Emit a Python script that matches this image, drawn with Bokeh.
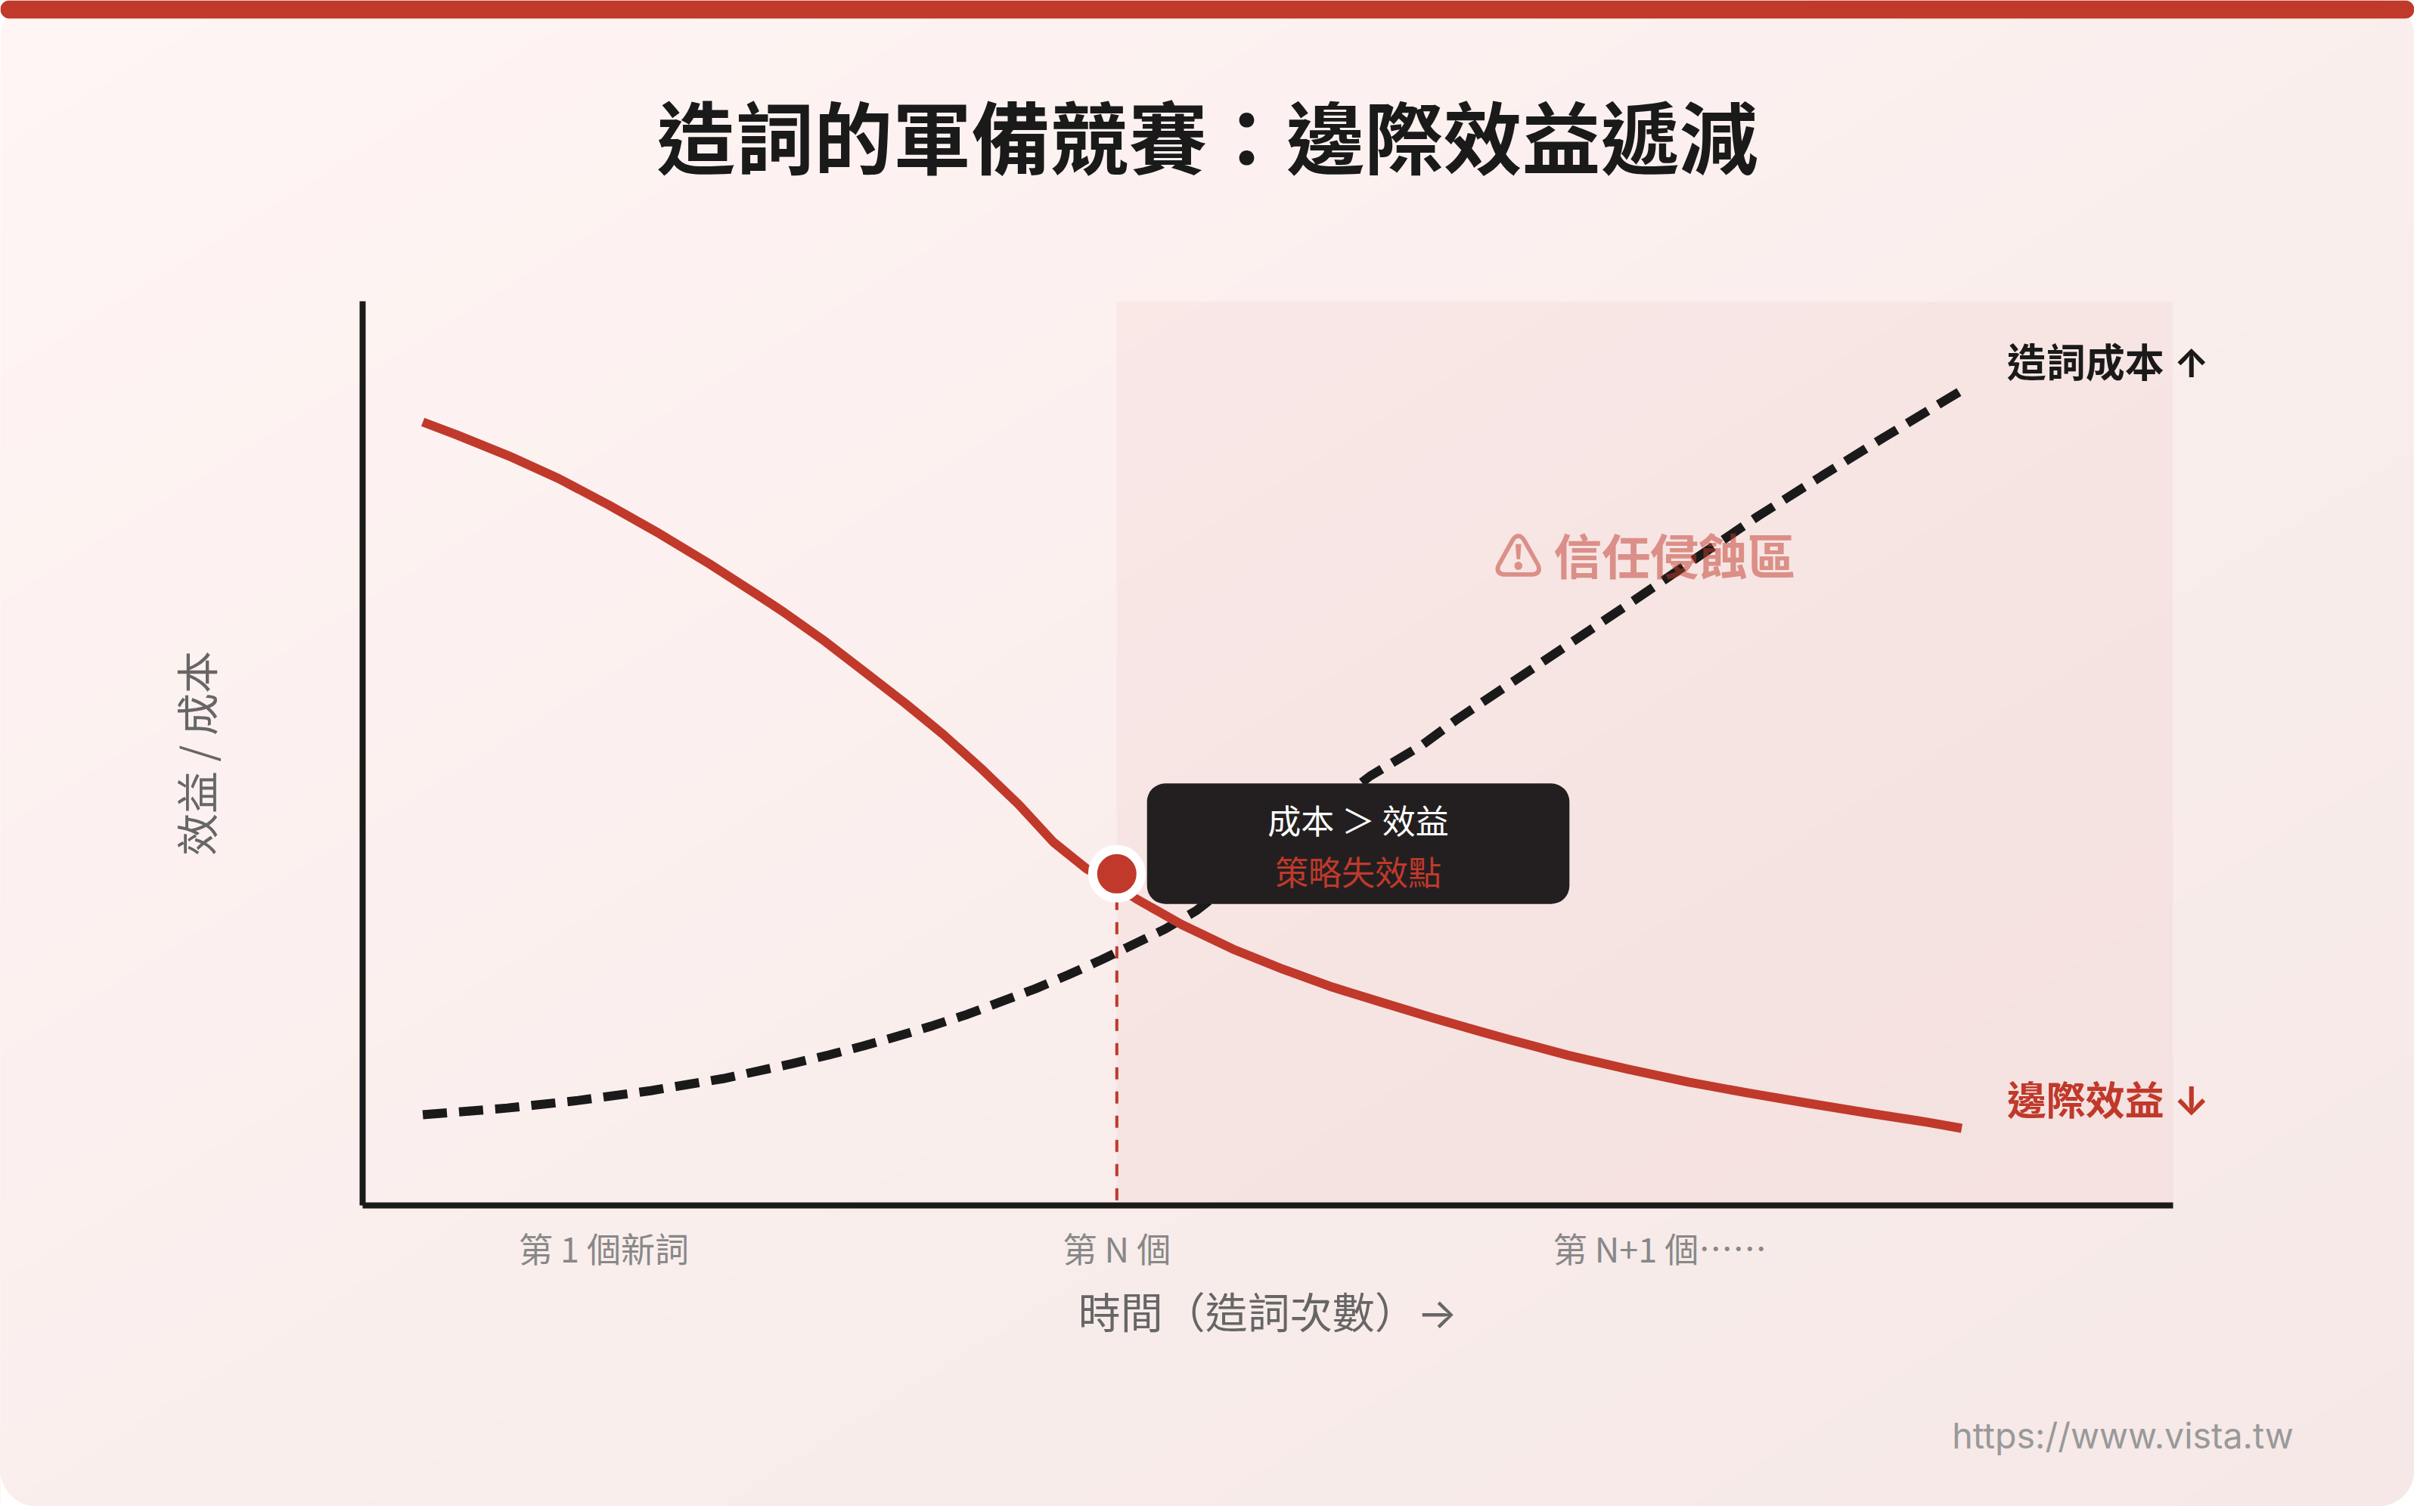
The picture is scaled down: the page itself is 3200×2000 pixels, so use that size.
import math
from bokeh.plotting import figure
from bokeh.models import Range1d, FixedTicker
from bokeh.core.properties import value
from bokeh.embed import file_html
from bokeh.resources import INLINE

# ---------- data (in the chart's own 1600x1000 units) ----------
benefit_x = [280, 303, 337, 370, 403, 437, 470, 503, 520, 545, 573, 600, 625, 650, 675, 698, 720, 740, 753, 783, 817, 850, 883, 917, 950, 983, 1000, 1039, 1079, 1119, 1158, 1198, 1237, 1277, 1300]
benefit_y = [280, 288.7, 302.5, 317.5, 335, 354.2, 374.2, 395.5, 406.8, 424.5, 446, 467, 487.5, 510, 534, 559, 576.7, 588, 596.7, 613.7, 630, 643.3, 655.3, 665.8, 675.8, 685.3, 690, 700.5, 709.8, 718.3, 725.5, 732.3, 738.7, 744.9, 749]
cost_x = [280, 336, 383, 431, 479, 525, 549, 572, 595, 618, 641, 663, 686, 708, 730, 747, 772, 793, 850, 908, 943, 966, 1027, 1066, 1087, 1126, 1165, 1207, 1248, 1290, 1300]
cost_y = [740, 735.5, 730.5, 724, 716, 706, 700.3, 694.3, 687.8, 680.8, 673.3, 665, 656.3, 647, 637, 628.8, 616.7, 604.2, 560, 515, 494, 477, 436, 409.8, 395.6, 369, 342.5, 316, 290.5, 265, 259]
failure_x = [740]
failure_y = [580]
tick_positions = [400, 740, 1100]
tick_labels = ["第 1 個新詞", "第 N 個", "第 N+1 個……"]
title_text = "造詞的軍備競賽：邊際效益遞減"
x_label = "時間（造詞次數）→"
y_label = "效益 / 成本"
zone_left, zone_right, zone_top, zone_bottom = 740, 1440, 200, 800

RED = "#C0392B"
INK = "#1A1A1A"
FONT = "Noto Sans CJK TC"
MIXED = 'Inter, "Noto Sans CJK TC"'

W, H = 1600, 1000
p = figure(width=3192, height=1992, x_range=Range1d(0, W), y_range=Range1d(H, 0),
           toolbar_location=None, output_backend="svg", min_border=0,
           background_fill_color="white", border_fill_color="white", outline_line_color=None)
p.grid.visible = False

# page gradient: overlapping diagonal bands
c0, c1 = (255, 245, 244), (245, 232, 230)
n = 40
xs, ys, cols = [], [], []
for i in range(n):
    t = i / (n - 1)
    s = 2 * i / n
    xs.append([s * W, (s + 2) * W, 0, 0])
    ys.append([0, 0, (s + 2) * H, s * H])
    cols.append("#%02x%02x%02x" % tuple(round(a + (b - a) * t) for a, b in zip(c0, c1)))
p.patches(xs, ys, fill_color=cols, line_color=None)

# rounded card corners
R = 24
def corner(cx, cy, px, py, a0):
    pts = [(cx + R * math.cos(a0 + k * math.pi / 2 / 16), cy + R * math.sin(a0 + k * math.pi / 2 / 16)) for k in range(17)]
    return [q[0] for q in pts] + [px], [q[1] for q in pts] + [py]
cs = [corner(R, R, 0, 0, math.pi), corner(W - R, R, W, 0, -math.pi / 2),
      corner(W - R, H - R, W, H, 0), corner(R, H - R, 0, H, math.pi / 2)]
p.patches([c[0] for c in cs], [c[1] for c in cs], fill_color="white", line_color=None)

# top bar
p.quad(left=[0], right=[W], top=[0], bottom=[12], fill_color=RED, line_color=None, border_radius=12)

# zone
p.quad(left=[zone_left], right=[zone_right], top=[zone_top], bottom=[zone_bottom],
       fill_color=RED, fill_alpha=0.045, line_color=None)

# guide
p.line([failure_x[0], failure_x[0]], [failure_y[0], zone_bottom], line_color=RED, line_width=4, line_dash="16 16")

# curves
p.line(cost_x, cost_y, line_color=INK, line_width=12, line_dash="32 16")
p.line(benefit_x, benefit_y, line_color=RED, line_width=12, line_join="round")

def txt(x, y, s, size, color, style="normal", align="center", alpha=1.0, font=FONT):
    p.text([x], [y], text=[s], text_font=value(font), text_font_size=f"{size}px", text_color=color,
           text_font_style=style, text_align=align, text_baseline="middle", text_alpha=alpha)

# zone label
txt(1090, 367, "⚠ 信任侵蝕區", 64, RED, "bold", alpha=0.5)

# marker
p.scatter(failure_x, failure_y, size=64, fill_color=RED, line_color="white", line_width=12)

# tooltip
p.quad(left=[760], right=[1040], top=[520], bottom=[600], fill_color="#231F20", line_color=None, border_radius=24)
txt(900, 544, "成本 ＞ 效益", 44, "white")
txt(900, 578, "策略失效點", 44, RED)

# titles and series labels
txt(800, 89, title_text, 104, INK, "bold")
txt(1330, 241, "造詞成本 ↑", 52, INK, "bold", "left", font=MIXED)
txt(1330, 731, "邊際效益 ↓", 52, RED, "bold", "left", font=MIXED)
txt(1520, 953, "https://www.vista.tw", 46.5, "#999999", align="right", font="Inter")

# axes
xa = p.xaxis[0]
xa.fixed_location = 800
xa.bounds = (240, 1440)
xa.ticker = FixedTicker(ticks=tick_positions)
xa.major_label_overrides = {k: v for k, v in zip(tick_positions, tick_labels)}
xa.major_tick_line_color = None
xa.minor_tick_line_color = None
xa.axis_line_color = INK
xa.axis_line_width = 8
xa.major_label_text_font = FONT
xa.major_label_text_font_size = "45px"
xa.major_label_text_color = "#888888"
xa.major_label_standoff = 18
xa.axis_label = x_label
xa.axis_label_text_font = MIXED
xa.axis_label_text_font_size = "56px"
xa.axis_label_text_font_style = "normal"
xa.axis_label_text_color = "#666666"
xa.axis_label_standoff = 16

ya = p.yaxis[0]
ya.fixed_location = 240
ya.bounds = (200, 800)
ya.ticker = FixedTicker(ticks=[])
ya.major_tick_line_color = None
ya.minor_tick_line_color = None
ya.axis_line_color = INK
ya.axis_line_width = 8
ya.axis_label = y_label
ya.axis_label_text_font = FONT
ya.axis_label_text_font_size = "56px"
ya.axis_label_text_font_style = "normal"
ya.axis_label_text_color = "#666666"
ya.axis_label_standoff = 182

open("out.html", "w").write(file_html(p, INLINE))
